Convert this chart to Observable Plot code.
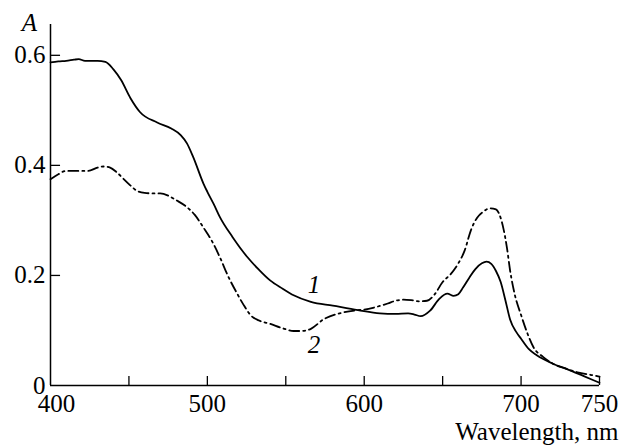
<!DOCTYPE html>
<html>
<head>
<meta charset="utf-8">
<script src="https://cdn.jsdelivr.net/npm/d3@7"></script>
<script src="https://cdn.jsdelivr.net/npm/@observablehq/plot@0.6"></script>
<style>
  html, body { margin: 0; padding: 0; background: #fff; }
</style>
</head>
<body>
<div id="chart"></div>
<script>
// Curve 1 (solid)
const wl1 = [400,405,410,415,418,422,430,435,440,445,451,457,468,477,483,487,491,497.5,500,504,508,516,525.6,533,540,548,555,566,580,596,610,620,628,632,636,642,648,653,657,660,663,667,671,675,678,681,684,687,690,693,697,700,705,710,720,730,740,750];
const a1  = [0.587,0.589,0.590,0.592,0.593,0.590,0.590,0.588,0.575,0.555,0.522,0.497,0.478,0.467,0.455,0.440,0.415,0.367,0.352,0.330,0.306,0.270,0.233,0.210,0.191,0.176,0.164,0.152,0.145,0.137,0.131,0.130,0.131,0.129,0.126,0.136,0.158,0.167,0.163,0.166,0.178,0.196,0.212,0.222,0.225,0.221,0.208,0.188,0.155,0.120,0.097,0.085,0.066,0.055,0.040,0.029,0.017,0.005];
// Curve 2 (dash-dot)
const wl2 = [400,405,410,418,424,430,434,438,442,446,450,455,460,466,470,475,480,487,492,497.5,503,508,513,519,523,527.5,533,540,548,555,560,566,574,587,596,600,608,615,620,625,630,635,640,645,650,655,660,664,668,672,676,680,684,686,689,691,693,696,700,704,708,714,720,728,736,745,750];
const a2  = [0.375,0.384,0.390,0.390,0.390,0.396,0.398,0.396,0.388,0.377,0.366,0.354,0.350,0.349,0.349,0.345,0.337,0.324,0.310,0.287,0.262,0.233,0.200,0.167,0.147,0.128,0.118,0.112,0.104,0.099,0.099,0.103,0.120,0.133,0.137,0.138,0.143,0.149,0.154,0.156,0.155,0.153,0.154,0.166,0.188,0.202,0.222,0.245,0.282,0.305,0.316,0.322,0.320,0.312,0.282,0.250,0.209,0.165,0.128,0.095,0.069,0.052,0.040,0.031,0.024,0.019,0.016];

const xTickLabels = [500, 600, 700, 750];
const xTicks = [450, 500, 550, 600, 650, 700, 750];
const yTicks = [0, 0.2, 0.4, 0.6];
const curveLabels = [{x: 568, y: 0.182, t: "1"}, {x: 568, y: 0.0745, t: "2"}];

const s1 = wl1.map((w, i) => ({w, a: a1[i]}));
const s2 = wl2.map((w, i) => ({w, a: a2[i]}));

const FONT = "'Liberation Serif', 'Times New Roman', serif";
const FS = 25;

const chart = Plot.plot({
  width: 629,
  height: 445,
  marginLeft: 50,
  marginRight: 30,
  marginTop: 24,
  marginBottom: 60,
  style: {fontFamily: FONT, fontSize: FS + "px", color: "black", background: "white"},
  x: {domain: [400, 750]},
  y: {domain: [0, 0.656]},
  marks: [
    Plot.axisY({ticks: yTicks, tickSize: 0, tickPadding: 5, fontSize: FS, fontFamily: FONT, label: null, tickFormat: d => d === 0 ? "0" : d.toFixed(1)}),
    Plot.axisX({ticks: xTickLabels, tickSize: 0, tickPadding: 9, fontSize: FS, fontFamily: FONT, label: null}),
    Plot.text([400], {x: d => d, frameAnchor: "bottom", textAnchor: "middle", lineAnchor: "top", dy: 9, dx: 6, text: d => String(d), fontSize: FS, fontFamily: FONT}),
    Plot.ruleX([400], {stroke: "black", strokeWidth: 1.5}),
    Plot.ruleY([0], {stroke: "black", strokeWidth: 1.5}),
    Plot.ruleX(xTicks, {y1: 0, y2: 0.0164, stroke: "black", strokeWidth: 1.3}),
    Plot.ruleY(yTicks.filter(d => d > 0), {x1: 400, x2: 406.4, stroke: "black", strokeWidth: 1.3}),
    Plot.line(s1, {x: "w", y: "a", curve: "monotone-x", stroke: "black", strokeWidth: 1.8}),
    Plot.line(s2, {x: "w", y: "a", curve: "monotone-x", stroke: "black", strokeWidth: 1.8, strokeDasharray: "10,4,2,4"}),
    Plot.text(curveLabels, {x: "x", y: "y", text: "t", fontSize: FS, fontFamily: FONT, fontStyle: "italic"}),
    Plot.text(["A"], {frameAnchor: "top-left", textAnchor: "middle", lineAnchor: "middle", dx: -21, dy: -2, fontSize: FS, fontFamily: FONT, fontStyle: "italic"}),
    Plot.text(["Wavelength, nm"], {frameAnchor: "bottom-right", textAnchor: "end", lineAnchor: "middle", dx: 19, dy: 46, fontSize: FS, fontFamily: FONT})
  ]
});
document.getElementById("chart").appendChild(chart);
</script>
</body>
</html>
